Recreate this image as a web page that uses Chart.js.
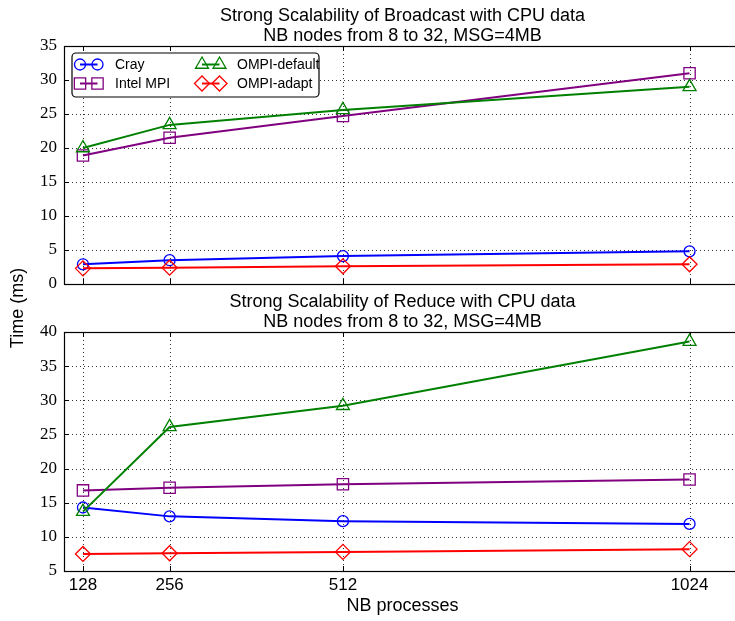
<!DOCTYPE html>
<html><head><meta charset="utf-8">
<script src="https://cdn.jsdelivr.net/npm/chart.js@4/dist/chart.umd.min.js"></script>
<style>
html,body{margin:0;padding:0;background:#fff;overflow:hidden;width:735px;height:621px}
#wrap{position:relative;width:735px;height:621px;overflow:hidden;background:#fff}
canvas{position:absolute;left:0;top:0}
</style></head><body>
<div id="wrap"><canvas id="c1" width="760" height="621"></canvas><canvas id="c2" width="760" height="621"></canvas></div>
<script>
// ---- data ----
const processes = [128, 256, 512, 1024];
const seriesNames = ['Cray', 'Intel MPI', 'OMPI-default', 'OMPI-adapt'];
const bcastCray    = [2.9, 3.5, 4.1, 4.8];
const bcastIntel   = [18.9, 21.5, 24.7, 31.0];
const bcastDefault = [20.0, 23.4, 25.6, 29.0];
const bcastAdapt   = [2.3, 2.4, 2.6, 2.9];
const reduceCray    = [14.3, 13.0, 12.3, 11.9];
const reduceIntel   = [16.8, 17.2, 17.7, 18.4];
const reduceDefault = [13.7, 26.1, 29.2, 38.6];
const reduceAdapt   = [7.5, 7.6, 7.8, 8.2];
const bcastTitle  = ['Strong Scalability of Broadcast with CPU data', 'NB nodes from 8 to 32, MSG=4MB'];
const reduceTitle = ['Strong Scalability of Reduce with CPU data', 'NB nodes from 8 to 32, MSG=4MB'];
const xLabel = 'NB processes';
const yLabel = 'Time (ms)';

// ---- styles ----
const styles = [
  {color: '#0000ff', pointStyle: 'circle', radius: 5.5, order: 4},
  {color: '#800080', pointStyle: 'rect', radius: 8, order: 3},
  {color: '#008000', pointStyle: 'triangle', radius: 7.5, order: 2},
  {color: '#ff0000', pointStyle: 'rectRot', radius: 7.5, order: 1}
];
const SANS = '"Liberation Sans", Arial, Helvetica, sans-serif';
const SERIF = '"Liberation Serif", "DejaVu Serif", serif';

function makeDatasets(arrs) {
  return arrs.map((arr, i) => ({
    label: seriesNames[i],
    data: processes.map((p, k) => ({x: p, y: arr[k]})),
    borderColor: styles[i].color,
    borderWidth: 2,
    pointStyle: styles[i].pointStyle,
    pointRadius: styles[i].radius,
    pointBorderWidth: 1.3,
    pointBorderColor: styles[i].color,
    pointBackgroundColor: 'rgba(0,0,0,0)',
    fill: false,
    tension: 0,
    order: styles[i].order
  }));
}

const framePlugin = {
  id: 'frame',
  beforeDatasetsDraw(chart) {
    const {ctx, chartArea: a, scales: {x, y}} = chart;
    ctx.save();
    ctx.strokeStyle = 'rgba(0,0,0,0.8)';
    ctx.lineWidth = 1;
    ctx.setLineDash([1, 3]);
    x.ticks.forEach(t => {
      const px = Math.round(x.getPixelForValue(t.value)) + 0.5;
      if (px > a.left + 1 && px < a.right - 1) {
        ctx.beginPath(); ctx.moveTo(px, a.top); ctx.lineTo(px, a.bottom); ctx.stroke();
      }
    });
    y.ticks.forEach(t => {
      const py = Math.round(y.getPixelForValue(t.value)) + 0.5;
      if (py > a.top + 1 && py < a.bottom - 1) {
        ctx.beginPath(); ctx.moveTo(a.left, py); ctx.lineTo(a.right, py); ctx.stroke();
      }
    });
    ctx.setLineDash([]);
    ctx.strokeStyle = '#000';
    const tl = 5;
    x.ticks.forEach(t => {
      const px = Math.round(x.getPixelForValue(t.value)) + 0.5;
      ctx.beginPath();
      ctx.moveTo(px, a.bottom); ctx.lineTo(px, a.bottom - tl);
      ctx.moveTo(px, a.top); ctx.lineTo(px, a.top + tl);
      ctx.stroke();
    });
    y.ticks.forEach(t => {
      const py = Math.round(y.getPixelForValue(t.value)) + 0.5;
      ctx.beginPath();
      ctx.moveTo(a.left, py); ctx.lineTo(a.left + tl, py);
      ctx.moveTo(a.right, py); ctx.lineTo(a.right - tl, py);
      ctx.stroke();
    });
    ctx.restore();
  },
  afterDatasetsDraw(chart) {
    const {ctx, chartArea: a} = chart;
    ctx.save();
    ctx.strokeStyle = '#000';
    ctx.lineWidth = 1.2;
    ctx.strokeRect(Math.round(a.left) + 0.5, Math.round(a.top) + 0.5, Math.round(a.right - a.left), Math.round(a.bottom - a.top));
    ctx.restore();
  },
  afterDraw(chart, args, opts) {
    const {ctx, chartArea: a} = chart;
    ctx.save();
    ctx.fillStyle = '#000';
    ctx.textAlign = 'center';
    ctx.textBaseline = 'middle';
    ctx.font = '18px ' + SANS;
    const cx = (a.left + a.right) / 2;
    ctx.fillText(opts.title[0], cx, a.top - 30);
    ctx.fillText(opts.title[1], cx, a.top - 10);
    if (opts.axisLabels) {
      ctx.fillText(xLabel, cx, a.bottom + 35);
      ctx.save();
      ctx.translate(18, 308);
      ctx.rotate(-Math.PI / 2);
      ctx.fillText(yLabel, 0, 0);
      ctx.restore();
    }
    if (opts.legend) {
      const bx = a.left + 8, by = a.top + 7, bw = 247, bh = 44, r = 4;
      ctx.beginPath();
      ctx.moveTo(bx + r, by);
      ctx.arcTo(bx + bw, by, bx + bw, by + bh, r);
      ctx.arcTo(bx + bw, by + bh, bx, by + bh, r);
      ctx.arcTo(bx, by + bh, bx, by, r);
      ctx.arcTo(bx, by, bx + bw, by, r);
      ctx.closePath();
      ctx.fillStyle = '#fff';
      ctx.fill();
      ctx.lineWidth = 1.2;
      ctx.strokeStyle = '#000';
      ctx.stroke();
      const cols = [bx + 8, bx + 130];
      const rows = [by + 11.5, by + 30.5];
      ctx.font = '14px ' + SANS;
      ctx.textAlign = 'left';
      chart.data.datasets.forEach((ds, i) => {
        const col = Math.floor(i / 2), row = i % 2;
        const x0 = cols[col], y0 = rows[row];
        ctx.strokeStyle = ds.borderColor;
        ctx.lineWidth = 2;
        ctx.beginPath(); ctx.moveTo(x0, y0); ctx.lineTo(x0 + 17.5, y0); ctx.stroke();
        ctx.fillStyle = 'rgba(0,0,0,0)';
        ctx.lineWidth = ds.pointBorderWidth;
        [x0, x0 + 17.5].forEach(px => {
          Chart.helpers.drawPoint(ctx, {pointStyle: ds.pointStyle, rotation: 0, radius: ds.pointRadius, borderWidth: ds.pointBorderWidth}, px, y0);
        });
        ctx.fillStyle = '#000';
        ctx.fillText(ds.label, x0 + 35, y0 + 1);
      });
    }
    ctx.restore();
  }
};

function baseOptions(cfg) {
  return {
    responsive: false,
    maintainAspectRatio: false,
    animation: false,
    devicePixelRatio: 1,
    layout: {padding: cfg.padding},
    plugins: {
      legend: {display: false},
      tooltip: {enabled: false},
      title: {display: false},
      frame: {title: cfg.title, legend: cfg.legend, axisLabels: cfg.axisLabels}
    },
    scales: {
      x: {
        type: 'linear', min: 100, max: 1100,
        afterBuildTicks: s => { s.ticks = processes.map(v => ({value: v})); },
        grid: {display: false, drawTicks: false},
        border: {display: false},
        ticks: {
          display: cfg.xTicks, autoSkip: false, maxRotation: 0, minRotation: 0,
          color: '#000', font: {family: SANS, size: 17}, padding: 4,
          callback: v => String(v)
        },
        afterFit: s => { s.height = cfg.xHeight; }
      },
      y: {
        min: cfg.ymin, max: cfg.ymax,
        grid: {display: false, drawTicks: false},
        border: {display: false},
        ticks: {stepSize: 5, color: '#000', font: {family: SERIF, size: 17}, padding: 7},
        afterFit: s => { s.width = 64; }
      }
    }
  };
}

new Chart(document.getElementById('c1'), {
  type: 'line',
  data: {datasets: makeDatasets([bcastCray, bcastIntel, bcastDefault, bcastAdapt])},
  options: baseOptions({padding: {top: 46, bottom: 337, left: 0, right: 19}, title: bcastTitle, legend: true, axisLabels: false, xTicks: false, xHeight: 0, ymin: 0, ymax: 35}),
  plugins: [framePlugin]
});
new Chart(document.getElementById('c2'), {
  type: 'line',
  data: {datasets: makeDatasets([reduceCray, reduceIntel, reduceDefault, reduceAdapt])},
  options: baseOptions({padding: {top: 332, bottom: 0, left: 0, right: 19}, title: reduceTitle, legend: false, axisLabels: true, xTicks: true, xHeight: 50, ymin: 5, ymax: 40}),
  plugins: [framePlugin]
});
</script>
</body></html>
